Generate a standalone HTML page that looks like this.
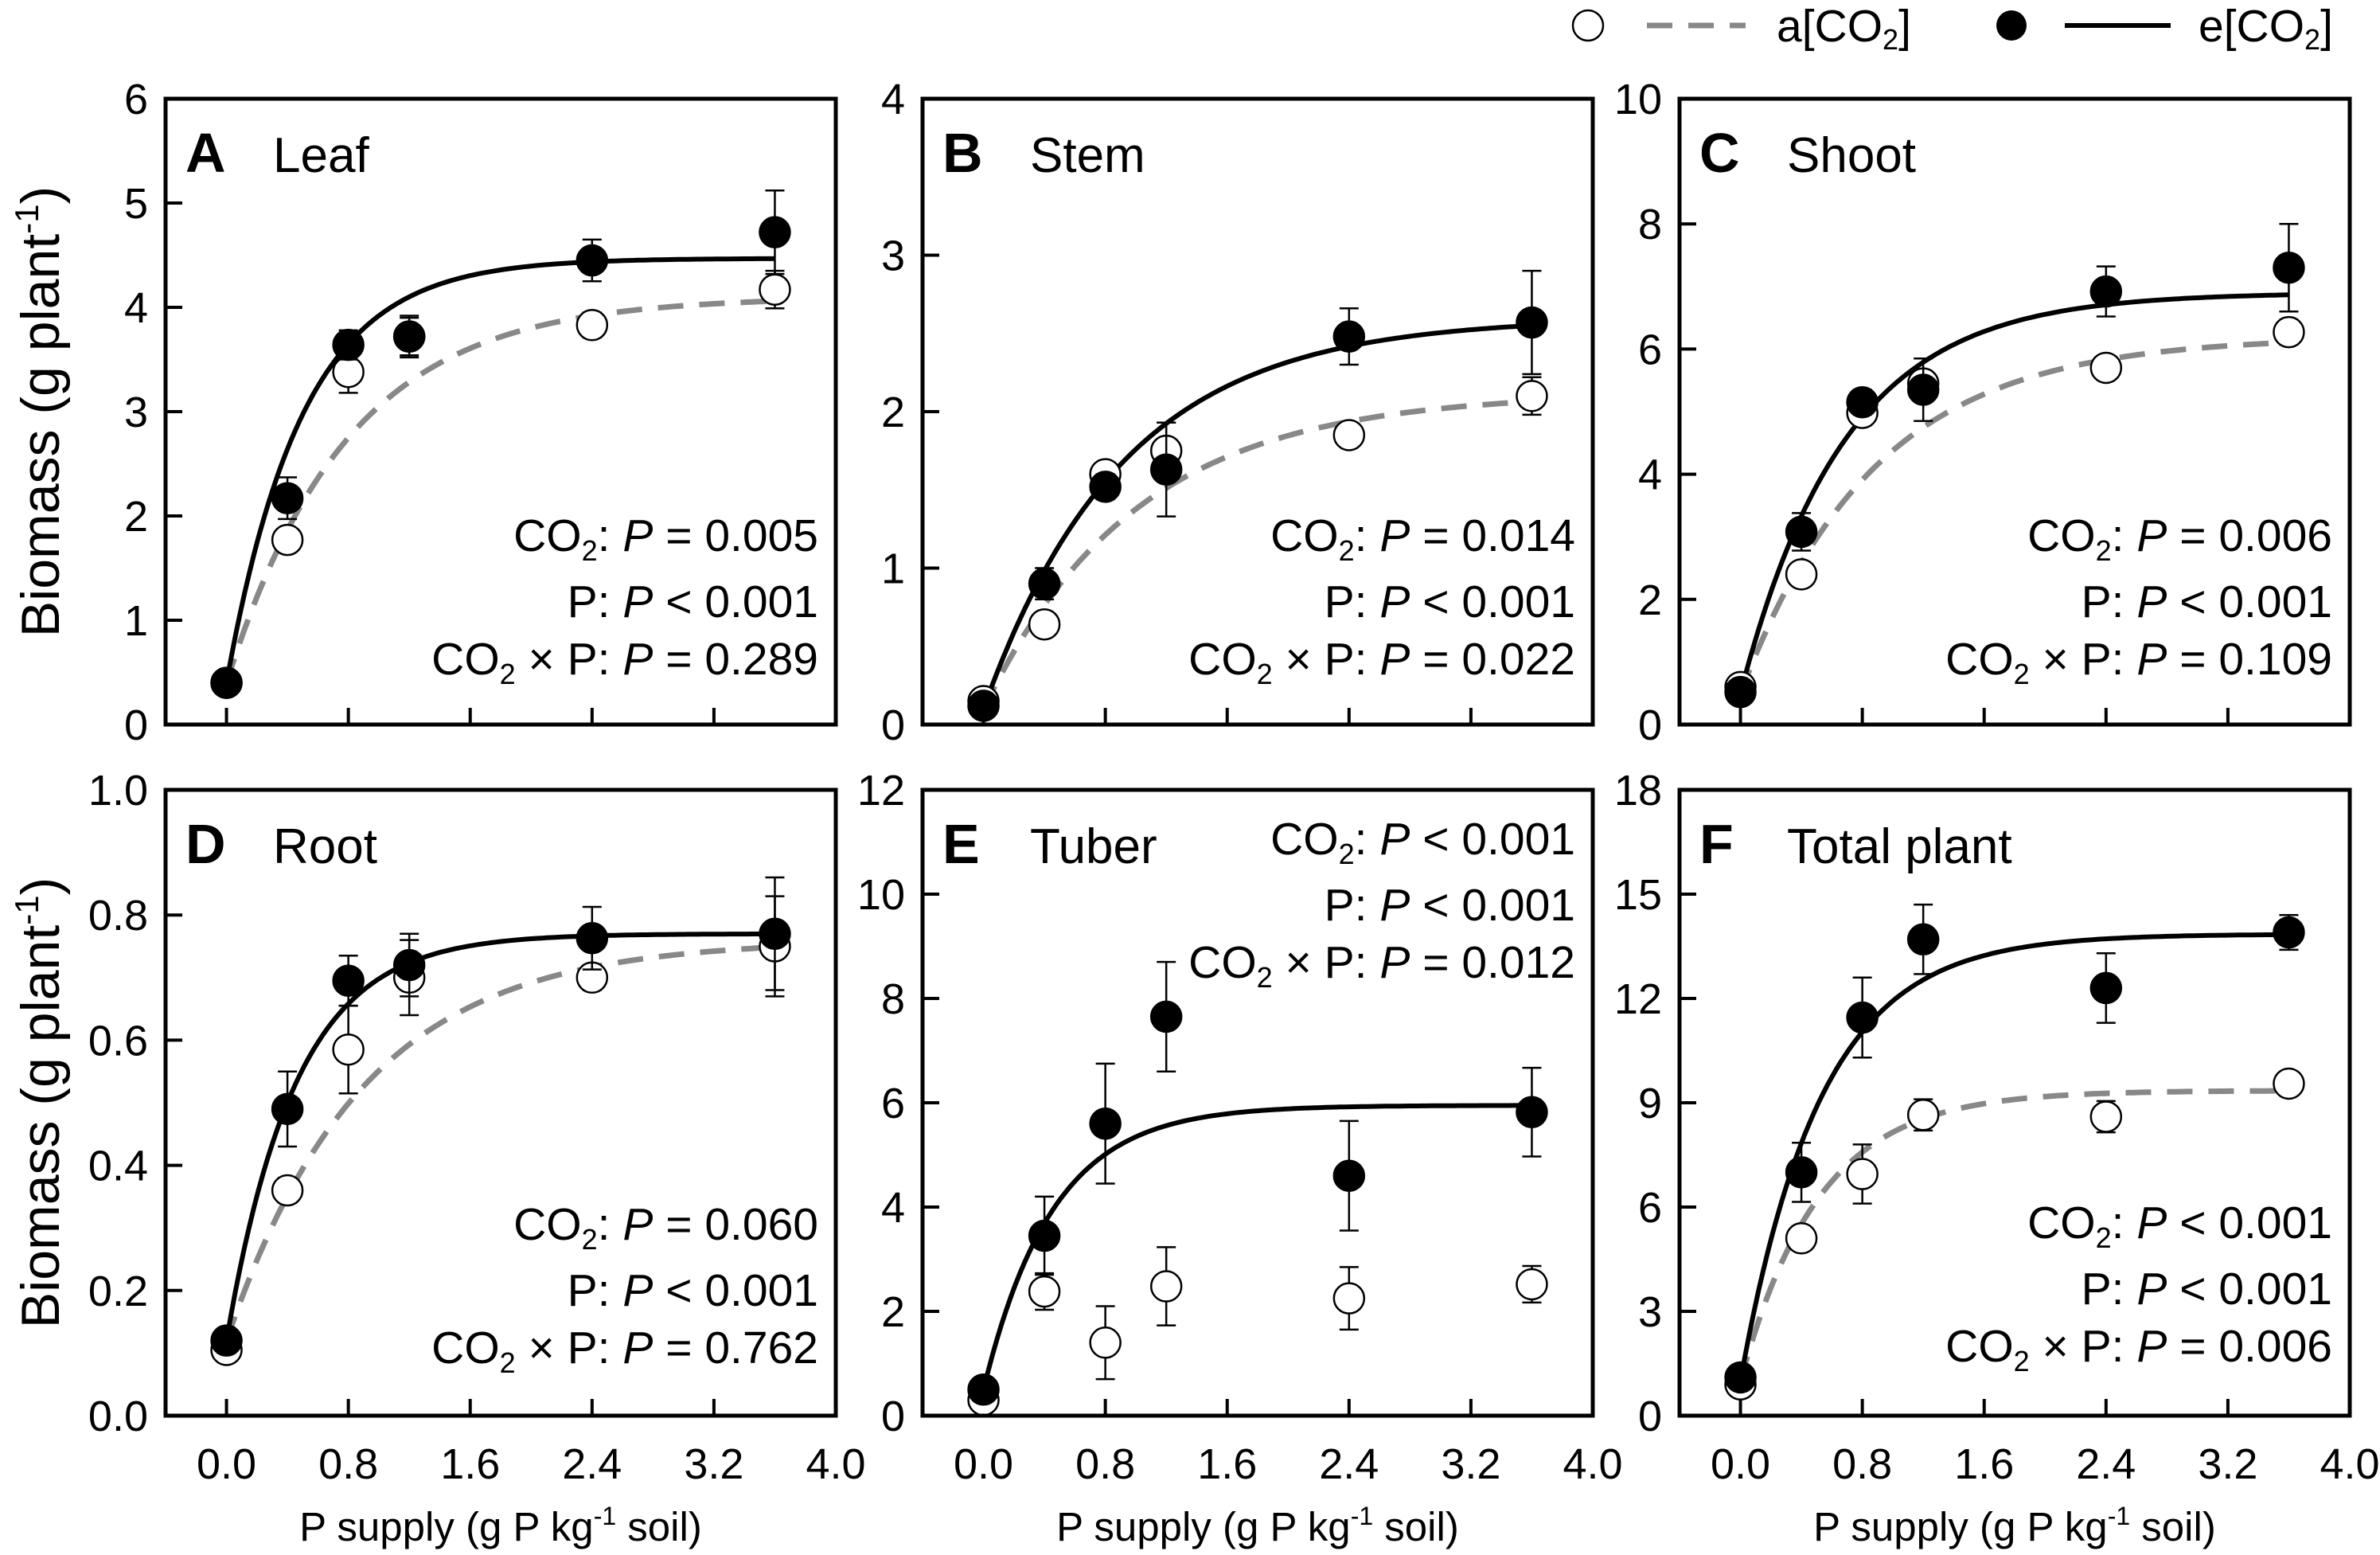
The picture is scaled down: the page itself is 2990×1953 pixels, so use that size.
<!DOCTYPE html>
<html><head><meta charset="utf-8"><style>
html,body{margin:0;padding:0;background:#fff;}
svg{display:block;font-family:"Liberation Sans",Arial,sans-serif;}
</style></head><body>
<svg id="fig" width="2990" height="1953" viewBox="0 0 2990 1953" xmlns="http://www.w3.org/2000/svg">
<g>
<circle cx="1995" cy="32" r="19" fill="#fff" stroke="#000" stroke-width="2.5"/>
<line x1="2069" y1="32" x2="2193" y2="32" stroke="#888" stroke-width="7" stroke-dasharray="32,20"/>
<text x="2232" y="52" font-size="57">a[CO<tspan font-size="36" dy="10">2</tspan><tspan dy="-10">]</tspan></text>
<circle cx="2527" cy="32" r="19" fill="#000"/>
<line x1="2594" y1="32" x2="2727" y2="32" stroke="#000" stroke-width="6"/>
<text x="2762" y="52" font-size="57">e[CO<tspan font-size="36" dy="10">2</tspan><tspan dy="-10">]</tspan></text>
</g>
</svg>
<script>
const xVals=[0,0.4,0.8,1.2,2.4,3.6];
const xTicks=[0,0.8,1.6,2.4,3.2];
const xTickLabels=["0.0","0.8","1.6","2.4","3.2","4.0"];
const panelLetters=["A","B","C","D","E","F"];
const panelNames=["Leaf","Stem","Shoot","Root","Tuber","Total plant"];
const yMaxes=[6,4,10,1,12,18];
const ySteps=[1,1,2,0.2,2,3];
const yDecimals=[0,0,0,1,0,0];
const eMeans=[[0.4,2.17,3.64,3.72,4.45,4.72],[0.12,0.9,1.52,1.63,2.48,2.57],[0.52,3.08,5.15,5.35,6.92,7.3],[0.12,0.49,0.695,0.72,0.763,0.77],[0.5,3.45,5.6,7.65,4.6,5.82],[1.1,7.0,11.45,13.7,12.3,13.9]];
const eErrs=[[0.05,0.2,0.14,0.2,0.2,0.4],[0.03,0.1,0.08,0.3,0.18,0.33],[0.1,0.3,0.2,0.5,0.4,0.7],[0.02,0.06,0.04,0.05,0.05,0.09],[0.1,0.75,1.15,1.05,1.05,0.85],[0.2,0.85,1.15,1.0,1.0,0.5]];
const aMeans=[[0.4,1.77,3.38,3.72,3.83,4.17],[0.15,0.64,1.6,1.75,1.85,2.1],[0.6,2.4,4.98,5.45,5.7,6.27],[0.105,0.36,0.585,0.70,0.70,0.75],[0.3,2.38,1.4,2.48,2.25,2.52],[0.9,5.1,6.95,8.65,8.6,9.55]];
const aErrs=[[0.05,0.1,0.2,0.18,0.12,0.18],[0.03,0.07,0.05,0.18,0.07,0.12],[0.1,0.15,0.2,0.2,0.15,0.2],[0.01,0.02,0.07,0.06,0.02,0.08],[0.05,0.35,0.7,0.75,0.6,0.35],[0.1,0.3,0.85,0.45,0.45,0.3]];
// fitted curves y = y0 + (ymax - y0)(1 - exp(-k x))
const eFitY0=[0.4,0.1,0.5,0.12,0.5,1.0];
const eFitMax=[4.47,2.6,6.9,0.77,5.95,13.85];
const eFitK=[2.0,1.09,1.46,2.2,2.2,1.9];
const aFitY0=[0.4,0.1,0.5,0.12,null,1.0];
const aFitMax=[4.1,2.12,6.2,0.76,null,9.35];
const aFitK=[1.26,1.0,1.14,1.12,null,1.94];
const statsCO2=["= 0.005","= 0.014","= 0.006","= 0.060","< 0.001","< 0.001"];
const statsP=["< 0.001","< 0.001","< 0.001","< 0.001","< 0.001","< 0.001"];
const statsInt=["= 0.289","= 0.022","= 0.109","= 0.762","= 0.012","= 0.006"];

const NS="http://www.w3.org/2000/svg";
const svg=document.getElementById('fig');
function mk(tag,attrs,parent){const e=document.createElementNS(NS,tag);for(const k in attrs)e.setAttribute(k,attrs[k]);(parent||svg).appendChild(e);return e;}
const colL=[208,1159,2110], W=842, rowT=[124,992], H=786;

for(let p=0;p<6;p++){
  const c=p%3, r=Math.floor(p/3);
  const L=colL[c], T=rowT[r], R=L+W, B=T+H;
  const g=mk('g',{});
  
  
  const xs=v=>L+(v+0.4)/4.4*W;
  const ys=v=>B-v/yMaxes[p]*H;
  const n=Math.round(yMaxes[p]/ySteps[p]);
  for(let i=0;i<=n;i++){
    const v=i*ySteps[p], y=ys(v);
    if(i>0&&i<n){const t=mk('line',{x1:L,x2:L+21,y1:y,y2:y,stroke:'#000','stroke-width':4},g);
      
      }
    const tl=mk('text',{x:L-22,y:y+19,'font-size':54,'text-anchor':'end'},g);
    
    
    tl.textContent=v.toFixed(yDecimals[p]);
  }
  for(const v of xTicks){const t=mk('line',{x1:xs(v),x2:xs(v),y1:B,y2:B-21,stroke:'#000','stroke-width':4},g);
    
    }
  if(r===1){
    xTickLabels.forEach((s,i)=>{const tl=mk('text',{x:xs(i*0.8),y:1857,'font-size':54,'text-anchor':'middle'},g);
      
      
      tl.textContent=s;});
    const xt=mk('text',{x:L+W/2,y:1935,'font-size':51,'text-anchor':'middle'},g);
    
    
    xt.innerHTML='P supply (g P kg<tspan font-size="32" dy="-20">-1</tspan><tspan dy="20"> soil)</tspan>';
  }
  if(c===0){
    const cy=T+H/2;
    const yt=mk('text',{x:0,y:0,'font-size':68,'text-anchor':'middle',transform:`translate(74,${cy}) rotate(-90)`},g);
    
    
    yt.innerHTML='Biomass (g plant<tspan font-size="42" dy="-26">-1</tspan><tspan dy="26">)</tspan>';
  }
  function curve(y0,ym,k,dashed){
    let d='';for(let i=0;i<=120;i++){const x=i/120*3.6;const y=y0+(ym-y0)*(1-Math.exp(-k*x));d+=(i?'L':'M')+xs(x).toFixed(1)+','+ys(y).toFixed(1);}
    const pth=mk('path',{d:d,fill:'none',stroke:dashed?'#888':'#000','stroke-width':dashed?7:6,'stroke-dasharray':dashed?'32,20':'none'},g);
    
    
  }
  if(aFitY0[p]!==null)curve(aFitY0[p],aFitMax[p],aFitK[p],true);
  curve(eFitY0[p],eFitMax[p],eFitK[p],false);
  function pts(means,errs,filled){
    means.forEach((m,i)=>{
      const x=xs(xVals[i]),y1=ys(m+errs[i]),y2=ys(m-errs[i]);
      const eb=mk('path',{d:`M${x},${y1}V${y2}M${x-12},${y1}H${x+12}M${x-12},${y2}H${x+12}`,stroke:'#000','stroke-width':2.5,fill:'none'},g);
      
      
      const ci=mk('circle',{cx:x,cy:ys(m),r:19,fill:filled?'#000':'#fff',stroke:'#000','stroke-width':2.5},g);
      
      
    });
  }
  pts(aMeans[p],aErrs[p],false);
  pts(eMeans[p],eErrs[p],true);
  const fr=mk('rect',{x:L,y:T,width:W,height:H,fill:'none',stroke:'#000','stroke-width':5},g);
  
  
  const lt=mk('text',{x:L+25,y:T+92,'font-size':70,'font-weight':'bold'},g);
  
  
  lt.textContent=panelLetters[p];
  const nt=mk('text',{x:L+135,y:T+92,'font-size':62},g);
  
  
  nt.textContent=panelNames[p];
  let base;
  if(p===4) base=[T+81,T+164,T+236]; else if(p===5) base=[T+563,T+646,T+718]; else if(p===3) base=[T+565,T+648,T+720]; else base=[T+568,T+651,T+723];
  const rx=R-22;
  const lines=[`CO<tspan font-size="36" dy="12">2</tspan><tspan dy="-12">: </tspan><tspan font-style="italic">P</tspan> ${statsCO2[p]}`,
    `P: <tspan font-style="italic">P</tspan> ${statsP[p]}`,
    `CO<tspan font-size="36" dy="12">2</tspan><tspan dy="-12"> × P: </tspan><tspan font-style="italic">P</tspan> ${statsInt[p]}`];
  lines.forEach((h,i)=>{const st=mk('text',{x:rx,y:base[i],'font-size':57,'text-anchor':'end'},g);
    
    
    st.innerHTML=h;});
}
</script>
</body></html>
